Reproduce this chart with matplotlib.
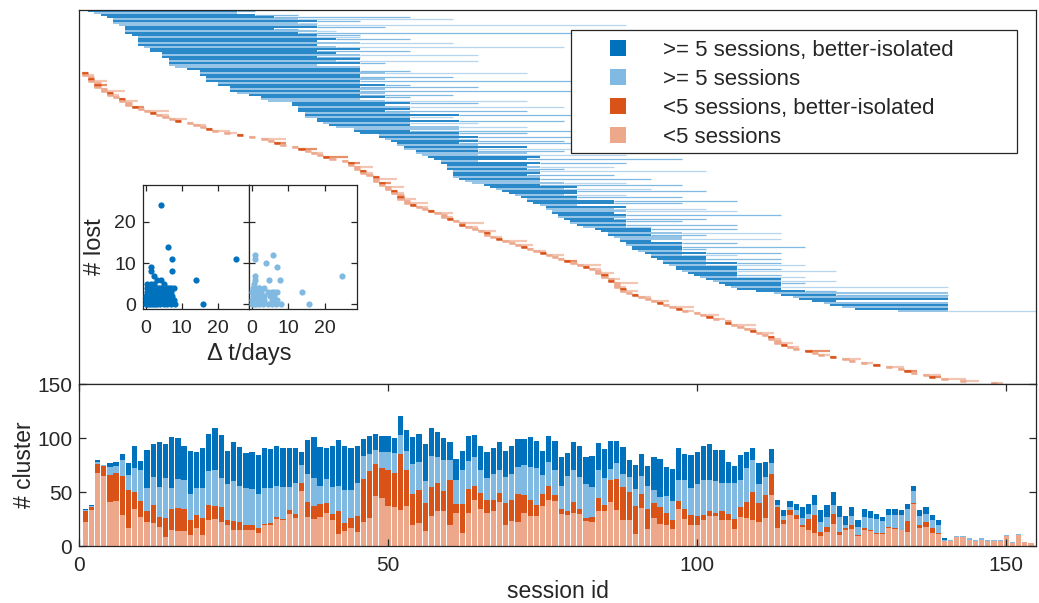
import numpy as np
import matplotlib
matplotlib.use('Agg')
import matplotlib.pyplot as plt
from matplotlib.lines import Line2D
from matplotlib.patches import Rectangle

plt.rcParams['font.family'] = ['Liberation Sans', 'DejaVu Sans']

# colours (MATLAB default blue / orange and lighter tints)
c_blue = '#0072BD'
c_blue_l = '#80B9E2'
c_blue_p = '#B5D6EE'
c_red = '#D95319'
c_red_l = '#EDA78B'
c_axis = '#262626'

# ---- bottom panel: clusters per session ----
session = np.arange(1, 155)
n_short = [22, 33, 68, 65, 41, 42, 29, 17, 34, 27,
           22, 21, 18, 8, 15, 14, 14, 10, 17, 10,
           24, 25, 22, 19, 15, 15, 15, 15, 12, 19,
           19, 25, 24, 30, 26, 51, 27, 25, 27, 31,
           24, 11, 14, 17, 13, 22, 26, 46, 44, 37,
           36, 33, 37, 19, 21, 14, 28, 32, 32, 19,
           31, 12, 31, 43, 34, 31, 32, 41, 19, 23,
           22, 31, 28, 28, 37, 43, 42, 30, 29, 31,
           30, 23, 22, 32, 32, 41, 33, 24, 24, 11,
           35, 16, 26, 20, 19, 16, 34, 25, 19, 19,
           24, 28, 28, 24, 24, 16, 27, 26, 24, 22,
           26, 47, 17, 20, 29, 25, 18, 15, 12, 9,
           13, 20, 10, 15, 16, 9, 15, 14, 11, 11,
           17, 16, 15, 13, 39, 17, 18, 12, 11, 5,
           5, 8, 8, 6, 5, 6, 5, 5, 5, 9,
           3, 10, 4, 3]
n_short_iso = [10, 3, 8, 9, 25, 26, 36, 35, 16, 15,
               10, 17, 9, 18, 19, 21, 20, 14, 12, 16,
               14, 12, 14, 5, 8, 7, 4, 4, 5, 1,
               2, 2, 1, 3, 4, 7, 14, 12, 12, 9,
               6, 21, 7, 9, 15, 40, 43, 30, 28, 33,
               32, 52, 33, 29, 31, 26, 27, 26, 19, 42,
               8, 27, 22, 13, 15, 12, 11, 8, 21, 20,
               26, 16, 15, 10, 11, 13, 5, 4, 3, 10,
               4, 3, 5, 12, 6, 20, 29, 31, 26, 26,
               13, 18, 14, 16, 12, 8, 8, 9, 10, 9,
               5, 4, 3, 8, 6, 9, 9, 15, 26, 18,
               21, 20, 19, 4, 4, 4, 1, 10, 17, 4,
               5, 10, 3, 2, 3, 1, 2, 1, 1, 1,
               1, 1, 0, 10, 1, 2, 4, 5, 1, 0,
               0, 0, 0, 0, 0, 0, 0, 0, 0, 0,
               0, 0, 0, 0]
n_long = [1, 1, 2, 1, 7, 6, 15, 14, 22, 28,
          22, 26, 28, 37, 20, 27, 27, 24, 25, 28,
          31, 33, 27, 33, 37, 34, 35, 34, 31, 34,
          33, 29, 30, 22, 28, 17, 26, 26, 17, 22,
          25, 24, 31, 26, 30, 21, 16, 13, 15, 17,
          18, 18, 18, 28, 26, 20, 28, 24, 29, 19,
          22, 31, 26, 26, 21, 20, 24, 21, 24, 24,
          25, 28, 30, 34, 18, 22, 23, 22, 33, 29,
          30, 31, 28, 26, 25, 10, 15, 12, 14, 16,
          17, 22, 12, 9, 15, 18, 19, 27, 25, 29,
          32, 29, 29, 26, 28, 33, 25, 31, 30, 17,
          17, 10, 2, 4, 3, 4, 7, 5, 9, 9,
          9, 8, 14, 2, 9, 8, 10, 11, 13, 11,
          11, 12, 14, 11, 11, 9, 8, 7, 7, 1,
          1, 1, 1, 1, 1, 1, 1, 1, 1, 1,
          1, 1, 0, 0]
n_long_iso = [1, 1, 2, 0, 4, 4, 5, 11, 21, 9,
              35, 30, 41, 31, 47, 38, 32, 40, 33, 37,
              35, 39, 40, 31, 36, 36, 32, 34, 36, 37,
              36, 37, 36, 36, 33, 12, 31, 38, 36, 29,
              38, 42, 41, 39, 35, 16, 17, 15, 15, 15,
              14, 17, 19, 25, 26, 34, 26, 24, 20, 16,
              20, 18, 23, 21, 23, 24, 24, 26, 24, 26,
              26, 24, 28, 25, 22, 24, 27, 26, 21, 26,
              29, 25, 28, 25, 27, 26, 20, 25, 16, 22,
              20, 18, 30, 36, 27, 29, 30, 24, 30, 30,
              32, 33, 29, 31, 20, 16, 23, 15, 11, 20,
              14, 13, 5, 5, 6, 6, 10, 9, 9, 11,
              11, 12, 10, 9, 8, 6, 7, 6, 5, 4,
              5, 5, 4, 5, 5, 5, 6, 5, 5, 1,
              0, 0, 0, 0, 0, 0, 0, 0, 0, 0,
              0, 0, 0, 0]

# ---- top panel: cluster life spans ----
# first session, last session of the dense part, last session seen
long_first = [2, 3, 4, 5, 6, 6, 6, 7, 8, 8, 8, 8, 9, 10, 10, 10, 10, 10, 11, 12,
              12, 14, 14, 14, 15, 15, 15, 15, 16, 18, 20, 20, 20, 21, 21, 21, 23, 23, 25, 25,
              25, 26, 28, 30, 30, 31, 35, 35, 36, 36, 36, 37, 37, 37, 39, 39, 40, 41, 42, 45,
              45, 46, 49, 49, 50, 51, 52, 52, 53, 53, 55, 55, 56, 57, 58, 59, 59, 60, 60, 60,
              61, 61, 61, 61, 62, 63, 64, 66, 67, 68, 69, 70, 71, 72, 73, 73, 74, 75, 76, 76,
              77, 77, 78, 78, 79, 80, 80, 81, 82, 84, 85, 86, 86, 87, 88, 88, 89, 89, 90, 90,
              91, 92, 93, 93, 94, 95, 95, 96, 97, 97, 98, 99, 100, 101, 102, 103, 104, 105, 106, 107,
              110, 113, 114, 116, 117, 119, 121, 122, 124, 126, 133]
long_core = [25, 25, 28, 31, 35, 38, 35, 38, 38, 31, 38, 35, 38,
             38, 41, 38, 45, 38, 41, 45, 38, 41, 45, 38, 45, 41, 45, 38, 45,
             45, 45, 49, 45, 45, 49, 45, 45, 49, 45, 49, 45, 49, 45, 49, 45, 49,
             53, 49, 53, 53, 49, 53, 61, 53, 53, 61, 53, 53, 61, 61, 53,
             61, 61, 64, 61, 64, 61, 64, 72, 64,
             64, 72, 64, 74, 72, 64, 74, 72, 74, 72, 74, 74, 72, 74, 74,
             74, 78, 74, 80, 78, 80, 80, 78, 80, 80, 86,
             86, 80, 88, 86, 88, 86, 88, 88, 86, 88, 88, 88, 88,
             92, 92, 97, 92, 97, 97, 92, 97, 97, 97, 97, 97, 101, 97, 101,
             101, 101, 106, 101, 106, 106, 106, 106, 106, 106,
             113, 113, 113, 113, 113, 113,
             117, 140, 122, 140, 140, 122, 140, 140, 140, 140, 140]
long_last = [28, 25, 35, 53, 60, 45, 38, 88, 49, 35, 41, 88, 45,
             45, 53, 38, 60, 38, 78, 45, 53, 41, 64, 45, 45, 64, 49, 38, 45,
             45, 53, 72, 45, 60, 49, 86, 45, 53, 64, 49, 90, 49, 60, 53, 45, 72,
             64, 49, 78, 53, 72, 53, 86, 60, 53, 78, 64, 53, 72, 61, 92,
             72, 61, 86, 64, 78, 88, 64, 72, 97,
             78, 72, 88, 74, 97, 64, 88, 72, 86, 78, 101, 74, 86, 74, 92,
             74, 88, 97, 80, 92, 101, 80, 88, 97, 80, 106,
             97, 80, 88, 101, 106, 86, 113, 88, 101, 97, 88, 106, 92,
             106, 92, 113, 101, 97, 113, 92, 106, 97, 117, 101, 97, 113, 106, 101,
             113, 101, 113, 117, 106, 113, 122, 106, 113, 117,
             113, 122, 117, 113, 140, 113,
             122, 140, 140, 140, 140, 122, 140, 140, 140, 140, 155]
long_iso = [1, 0, 1, 1, 0, 1, 0, 0, 1, 1, 0, 1, 1, 0, 1, 1, 0, 1, 0, 1,
            1, 1, 0, 1, 1, 0, 1, 0, 0, 1, 1, 0, 1, 1, 0, 1, 0, 1, 1, 0,
            1, 0, 1, 1, 0, 0, 1, 1, 0, 1, 1, 0, 1, 0, 1, 1, 0, 1, 0, 0,
            1, 1, 0, 1, 0, 1, 1, 0, 1, 0, 1, 0, 0, 1, 1, 0, 1, 1, 0, 1,
            0, 1, 1, 0, 1, 0, 0, 1, 1, 0, 1, 1, 0, 1, 0, 1, 1, 0, 1, 0,
            0, 1, 1, 0, 1, 1, 0, 1, 0, 1, 1, 0, 1, 0, 0, 1, 1, 0, 1, 1,
            0, 1, 0, 1, 1, 0, 1, 0, 1, 1, 0, 1, 1, 0, 1, 0, 1, 1, 0, 1,
            1, 0, 1, 0, 1, 1, 0, 1, 0, 1, 0]

short_first = [1, 1, 2, 2, 2, 3, 3, 3, 4, 4, 5, 5, 6, 7, 7, 8, 8, 9, 10, 11,
               12, 13, 14, 15, 16, 18, 19, 20, 21, 22, 24, 26, 28, 30, 31, 32, 33, 35, 36, 37,
               38, 39, 40, 41, 43, 44, 44, 45, 45, 46, 46, 47, 48, 48, 48, 49, 49, 50, 50, 51,
               51, 52, 52, 52, 53, 53, 54, 55, 56, 57, 58, 59, 59, 60, 61, 62, 62, 63, 64, 65,
               66, 66, 67, 68, 69, 70, 71, 72, 73, 74, 75, 76, 77, 78, 79, 80, 81, 82, 83, 84,
               84, 85, 85, 86, 86, 87, 87, 87, 88, 88, 89, 90, 91, 92, 93, 94, 95, 96, 97, 98,
               100, 101, 102, 103, 105, 105, 106, 107, 108, 109, 110, 111, 112, 112, 113, 113, 114, 115, 116, 118,
               119, 120, 122, 124, 125, 127, 129, 131, 133, 134, 135, 137, 138, 140, 143, 148]
short_len = [1, 2, 1, 1, 3, 1, 2, 1, 1, 4, 1, 2, 1, 1, 3, 1, 1, 2, 1, 4,
             1, 2, 1, 3, 1, 1, 2, 1, 1, 3, 2, 1, 1, 4, 1, 2, 1, 1, 3, 1,
             2, 1, 4, 1, 1, 2, 1, 3, 1, 1, 2, 1, 1, 4, 1, 2, 1, 3, 1, 1,
             2, 1, 1, 3, 1, 4, 1, 2, 1, 1, 3, 1, 2, 1, 1, 4, 1, 2, 1, 3,
             1, 1, 2, 1, 4, 1, 3, 1, 1, 2, 1, 3, 1, 1, 2, 1, 4, 1, 2, 1,
             3, 1, 1, 2, 1, 4, 1, 2, 1, 3, 1, 1, 2, 1, 3, 1, 1, 4, 1, 2,
             1, 3, 1, 2, 1, 1, 4, 1, 2, 1, 3, 1, 1, 2, 1, 3, 1, 2, 1, 4,
             1, 2, 1, 3, 1, 2, 1, 3, 1, 2, 1, 3, 2, 4, 3, 2]
short_iso = [1, 0, 0, 1, 0, 0, 1, 0, 0, 0, 1, 0, 0, 1, 0, 0, 0, 1, 0, 0,
             1, 0, 0, 0, 1, 0, 0, 0, 1, 0, 0, 1, 0, 0, 0, 1, 0, 0, 1, 0,
             0, 0, 1, 0, 0, 1, 0, 0, 0, 1, 0, 0, 1, 0, 0, 1, 0, 0, 0, 1,
             0, 0, 1, 0, 0, 0, 1, 0, 0, 1, 0, 0, 0, 1, 0, 0, 1, 0, 0, 0,
             1, 0, 0, 1, 0, 0, 0, 1, 0, 0, 1, 0, 0, 0, 1, 0, 0, 1, 0, 0,
             0, 1, 0, 0, 1, 0, 0, 0, 1, 0, 0, 1, 0, 0, 0, 1, 0, 0, 1, 0,
             0, 0, 1, 0, 0, 1, 0, 0, 0, 1, 0, 0, 1, 0, 0, 0, 1, 0, 0, 1,
             0, 0, 1, 0, 0, 0, 1, 0, 0, 1, 0, 0, 1, 0, 0, 0]

# ---- inset: clusters lost vs. time gap ----
dt_iso = [4.3, 6.2, 7.3, 7.3, 25, 14, 16, 8, 1.4, 1.4, 2.3, 1.4, 2.3, 3.3, 4.2, 5.1, 0.5,
          0.3, 1, 1.5, 2, 2.5, 3, 3.5, 4, 4.5, 5, 5.5, 6, 6.5, 7,
          0.3, 0.8, 1.3, 2, 2.8, 3.5, 4.5, 5.5, 6.3, 7,
          0.2, 0.7, 1.2, 1.8, 2.5, 3.2, 4, 5, 6, 7.3,
          0.1, 0.5, 1, 1.5, 2, 3, 3.8, 4.5, 5.5, 6.5, 7.5, 8,
          0, 0.4, 0.9, 1.4, 2, 2.6, 3.3, 4, 5, 6, 7, 8.2]
lost_iso = [24, 14, 11, 8, 11, 6, 0, 4, 9, 8, 7, 5, 5, 6, 6, 5, 5,
            4, 4, 4, 4, 4, 4, 4, 4, 4, 4, 4, 4, 4, 4,
            3, 3, 3, 3, 3, 3, 3, 3, 3, 3,
            2, 2, 2, 2, 2, 2, 2, 2, 2, 2,
            1, 1, 1, 1, 1, 1, 1, 1, 1, 1, 1, 1,
            0, 0, 0, 0, 0, 0, 0, 0, 0, 0, 0, 0]
dt_all = [0.9, 0.9, 5.8, 3.9, 6.8, 24.5, 7.8, 4.8, 0.9, 13.6, 15.6, 0.6, 0.9, 2, 6, 7,
          0.3, 1, 2, 3.5,
          0.2, 0.8, 1.5, 2.5, 4.5, 5.5,
          0.3, 1, 1.8, 2.6, 3.5, 5, 6,
          0.2, 0.8, 1.5, 2.5, 3.5, 5.5, 7,
          0.1, 0.6, 1.2, 2, 3, 4.5, 5.5, 6.5, 8]
lost_all = [12, 11, 12, 10, 9, 7, 6, 6, 7, 3, 0, 5, 6, 4, 3, 3,
            4, 4, 4, 4,
            3, 3, 3, 3, 3, 3,
            2, 2, 2, 2, 2, 2, 2,
            1, 1, 1, 1, 1, 1, 1,
            0, 0, 0, 0, 0, 0, 0, 0, 0]

legend_labels = ['>= 5 sessions, better-isolated', '>= 5 sessions',
                 '<5 sessions, better-isolated', '<5 sessions']

W, H = 1039, 603
fig = plt.figure(figsize=(W / 100, H / 100), dpi=100)


def px_axes(l, t, r, b):
    return fig.add_axes([l / W, 1 - b / H, (r - l) / W, (b - t) / H])


def style(ax, size=15, pad=5):
    for sp in ax.spines.values():
        sp.set_color(c_axis)
        sp.set_linewidth(0.9)
    ax.tick_params(direction='in', colors=c_axis, labelcolor=c_axis,
                   top=True, right=True, length=5, width=0.9, labelsize=size, pad=pad)


xmax = 154.8

# top panel
ax1 = px_axes(79, 10, 1036, 384)
style(ax1)
ax1.set_xticks([])
ax1.set_yticks([])
ax1.set_xlim(0, xmax)
ax1.set_ylim(186.5, -0.5)

lf = np.array(long_first)
lc = np.array(long_core)
ll = np.array(long_last)
iso = np.array(long_iso) == 1
yl = np.arange(len(lf))
ax1.hlines(yl, lc + 0.5, ll + 0.5, colors=np.where(iso, c_blue_l, c_blue_p), linewidth=0.9)
ax1.hlines(yl, lf - 0.5, lc + 0.5, colors=np.where(iso, c_blue, c_blue_l), linewidth=1.2)

sf = np.array(short_first)
sl = np.array(short_len)
s_col = np.where(np.array(short_iso) == 1, c_red, c_red_l)
ys = 31 + np.arange(len(sf))
ax1.hlines(ys, sf - 0.5, sf + sl - 0.5, colors=s_col, linewidth=1.6, alpha=0.65)
ax1.hlines(ys, sf - 0.5, sf + 0.5, colors=s_col, linewidth=1.8)

# bottom panel
ax2 = px_axes(79, 384, 1036, 546)
style(ax2)
ax2.tick_params(axis='x', pad=7)
b0 = np.array(n_short)
b1 = b0 + np.array(n_short_iso)
b2 = b1 + np.array(n_long)
ax2.bar(session, n_short, width=0.85, color=c_red_l, linewidth=0)
ax2.bar(session, n_short_iso, width=0.85, bottom=b0, color=c_red, linewidth=0)
ax2.bar(session, n_long, width=0.85, bottom=b1, color=c_blue_l, linewidth=0)
ax2.bar(session, n_long_iso, width=0.85, bottom=b2, color=c_blue, linewidth=0)
ax2.set_xlim(0, xmax)
ax2.set_ylim(0, 150)
ax2.set_xticks([0, 50, 100, 150])
ax2.set_yticks([0, 50, 100, 150])
ax2.set_xlabel('session id', fontsize=16.5, color=c_axis, labelpad=4)
ax2.set_ylabel('# cluster', fontsize=16.5, color=c_axis, labelpad=1)

# insets
axl = px_axes(143, 185, 249, 309)
axr = px_axes(249, 185, 357, 309)
for ax, dt, lost, col in [(axl, dt_iso, lost_iso, c_blue), (axr, dt_all, lost_all, c_blue_l)]:
    style(ax, size=14)
    ax.tick_params(length=4)
    ax.tick_params(axis='x', pad=8)
    ax.scatter(dt, lost, s=20, color=col, linewidths=0, zorder=3)
    ax.set_xlim(-0.7, 28.6)
    ax.set_ylim(-1.1, 28.9)
    ax.set_xticks([0, 10, 20])
    ax.set_yticks([0, 10, 20])
axr.set_yticklabels([])
axl.set_ylabel('# lost', fontsize=17, color=c_axis, labelpad=6)
fig.text(249 / W, 1 - 354 / H, '\u0394 t/days', ha='center', va='center',
         fontsize=17, color=c_axis)

# legend
handles = [Line2D([], [], marker='s', linestyle='none', markersize=11,
                  markeredgewidth=0, color=c) for c in (c_blue, c_blue_l, c_red, c_red_l)]
fig.add_artist(Rectangle((571 / W, 1 - 153 / H), (1017 - 571) / W, (153 - 30) / H,
                         transform=fig.transFigure, facecolor='white',
                         edgecolor=c_axis, linewidth=0.9, zorder=4))
fig.legend(handles, legend_labels, loc='upper left',
           bbox_to_anchor=(607 / W, 1 - 40 / H), frameon=False, fontsize=16,
           handlelength=1.0, handletextpad=1.5, labelspacing=0.36,
           borderpad=0, borderaxespad=0, labelcolor=c_axis)

fig.savefig('out.png', dpi=100)
